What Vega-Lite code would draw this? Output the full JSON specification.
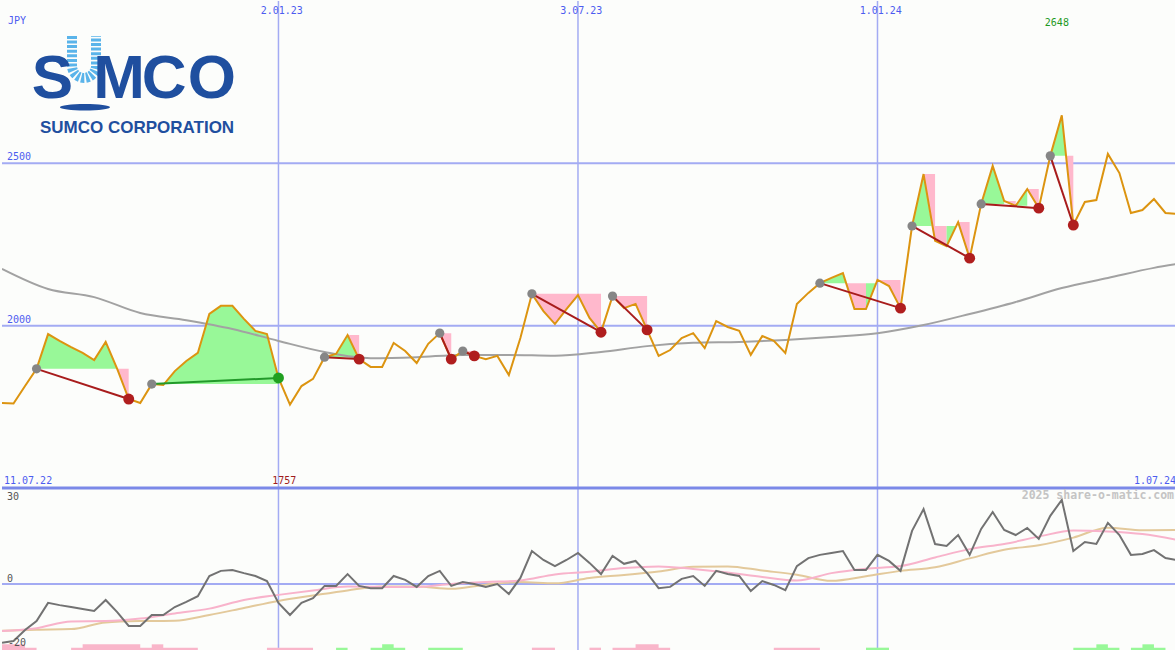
{
"$schema": "https://vega.github.io/schema/vega-lite/v6.json",
"background": "#fcfdfb",
"padding": 0,
"spacing": 0,
"bounds": "flush",
"config": {"view": {"stroke": null}, "axis": {"disable": true}, "legend": {"disable": true}},
"datasets": {
"hgrid": [{"price": 2500}, {"price": 2000}],
"vgrid": [{"date": "2023-01-02"}, {"date": "2023-07-03"}, {"date": "2024-01-01"}],
"lowgrid": [{"v": 0}],
"sep": [{"v": 30}],
"price": [
{"date":"2022-07-18","price":1762,"osc":-18.4},{"date":"2022-07-25","price":1760,"osc":-17.8},{"date":"2022-08-01","price":1814,"osc":-14.4},{"date":"2022-08-08","price":1867,"osc":-11.6},{"date":"2022-08-15","price":1974,"osc":-5.9},{"date":"2022-08-22","price":1953,"osc":-6.6},{"date":"2022-08-29","price":1934,"osc":-7.2},{"date":"2022-09-05","price":1916,"osc":-7.8},{"date":"2022-09-12","price":1894,"osc":-8.4},{"date":"2022-09-19","price":1950,"osc":-5.0},
{"date":"2022-09-26","price":1867,"osc":-8.8},{"date":"2022-10-03","price":1774,"osc":-13.1},{"date":"2022-10-10","price":1762,"osc":-13.1},{"date":"2022-10-17","price":1820,"osc":-9.7},{"date":"2022-10-24","price":1817,"osc":-9.7},{"date":"2022-10-31","price":1860,"osc":-7.2},{"date":"2022-11-07","price":1891,"osc":-5.6},{"date":"2022-11-14","price":1916,"osc":-3.8},{"date":"2022-11-21","price":2036,"osc":2.5},{"date":"2022-11-28","price":2061,"osc":4.1},
{"date":"2022-12-05","price":2061,"osc":4.4},{"date":"2022-12-12","price":2021,"osc":3.4},{"date":"2022-12-19","price":1984,"osc":2.5},{"date":"2022-12-26","price":1974,"osc":0.9},{"date":"2023-01-02","price":1839,"osc":-5.9},{"date":"2023-01-09","price":1757,"osc":-9.7},{"date":"2023-01-16","price":1814,"osc":-5.9},{"date":"2023-01-23","price":1836,"osc":-4.4},{"date":"2023-01-30","price":1903,"osc":-0.6},{"date":"2023-02-06","price":1913,"osc":-0.6},
{"date":"2023-02-13","price":1971,"osc":3.1},{"date":"2023-02-20","price":1897,"osc":-0.6},{"date":"2023-02-27","price":1873,"osc":-1.3},{"date":"2023-03-06","price":1873,"osc":-1.3},{"date":"2023-03-13","price":1947,"osc":2.5},{"date":"2023-03-20","price":1922,"osc":1.3},{"date":"2023-03-27","price":1885,"osc":-0.9},{"date":"2023-04-03","price":1944,"osc":2.5},{"date":"2023-04-10","price":1977,"osc":4.1},{"date":"2023-04-17","price":1897,"osc":-0.6},
{"date":"2023-04-24","price":1922,"osc":0.6},{"date":"2023-05-01","price":1907,"osc":0},{"date":"2023-05-08","price":1897,"osc":-0.9},{"date":"2023-05-15","price":1907,"osc":0},{"date":"2023-05-22","price":1848,"osc":-3.1},{"date":"2023-05-29","price":1962,"osc":1.9},{"date":"2023-06-05","price":2098,"osc":10.3},{"date":"2023-06-12","price":2045,"osc":7.5},{"date":"2023-06-19","price":2005,"osc":5.6},{"date":"2023-06-26","price":2051,"osc":7.5},
{"date":"2023-07-03","price":2094,"osc":9.7},{"date":"2023-07-10","price":2024,"osc":6.6},{"date":"2023-07-17","price":1980,"osc":3.1},{"date":"2023-07-24","price":2091,"osc":8.8},{"date":"2023-07-31","price":2054,"osc":6.3},{"date":"2023-08-07","price":2067,"osc":7.2},{"date":"2023-08-14","price":1987,"osc":3.4},{"date":"2023-08-21","price":1907,"osc":-1.3},{"date":"2023-08-28","price":1925,"osc":-0.9},{"date":"2023-09-04","price":1962,"osc":1.6},
{"date":"2023-09-11","price":1977,"osc":2.5},{"date":"2023-09-18","price":1931,"osc":-0.6},{"date":"2023-09-25","price":2014,"osc":4.1},{"date":"2023-10-02","price":1996,"osc":3.1},{"date":"2023-10-09","price":1984,"osc":2.5},{"date":"2023-10-16","price":1910,"osc":-2.2},{"date":"2023-10-23","price":1968,"osc":0.9},{"date":"2023-10-30","price":1953,"osc":-0.3},{"date":"2023-11-06","price":1916,"osc":-1.9},{"date":"2023-11-13","price":2067,"osc":5.6},
{"date":"2023-11-20","price":2101,"osc":8.1},{"date":"2023-11-27","price":2131,"osc":9.1},{"date":"2023-12-04","price":2147,"osc":9.7},{"date":"2023-12-11","price":2162,"osc":10.3},{"date":"2023-12-18","price":2051,"osc":4.4},{"date":"2023-12-25","price":2051,"osc":4.4},{"date":"2024-01-01","price":2141,"osc":9.1},{"date":"2024-01-08","price":2122,"osc":7.2},{"date":"2024-01-15","price":2054,"osc":4.1},{"date":"2024-01-22","price":2307,"osc":16.6},
{"date":"2024-01-29","price":2467,"osc":23.4},{"date":"2024-02-05","price":2261,"osc":12.5},{"date":"2024-02-12","price":2245,"osc":11.9},{"date":"2024-02-19","price":2319,"osc":15.3},{"date":"2024-02-26","price":2208,"osc":9.1},{"date":"2024-03-04","price":2375,"osc":17.2},{"date":"2024-03-11","price":2492,"osc":22.5},{"date":"2024-03-18","price":2384,"osc":16.9},{"date":"2024-03-25","price":2369,"osc":15.3},{"date":"2024-04-01","price":2421,"osc":17.5},
{"date":"2024-04-08","price":2362,"osc":14.1},{"date":"2024-04-15","price":2523,"osc":21.3},{"date":"2024-04-22","price":2648,"osc":26.3},{"date":"2024-04-29","price":2310,"osc":10.3},{"date":"2024-05-06","price":2381,"osc":13.1},{"date":"2024-05-13","price":2387,"osc":12.5},{"date":"2024-05-20","price":2529,"osc":19.1},{"date":"2024-05-27","price":2470,"osc":15.3},{"date":"2024-06-03","price":2347,"osc":9.1},{"date":"2024-06-10","price":2356,"osc":9.4},
{"date":"2024-06-17","price":2390,"osc":10.6},{"date":"2024-06-24","price":2347,"osc":8.1},{"date":"2024-07-01","price":2344,"osc":7.5}
],
"ma": [
{"date":"2022-07-18","price":2175},{"date":"2022-08-15","price":2113},{"date":"2022-09-12","price":2088},{"date":"2022-10-10","price":2039},{"date":"2022-11-07","price":2017},{"date":"2022-12-05","price":1990},{"date":"2023-01-02","price":1953},{"date":"2023-01-30","price":1919},{"date":"2023-02-27","price":1900},{"date":"2023-03-27","price":1903},{"date":"2023-04-24","price":1910},{"date":"2023-05-22","price":1910},{"date":"2023-06-19","price":1907},{"date":"2023-07-17","price":1919},{"date":"2023-08-14","price":1937},{"date":"2023-09-11","price":1947},{"date":"2023-10-09","price":1950},{"date":"2023-11-06","price":1956},{"date":"2023-12-04","price":1965},{"date":"2024-01-01","price":1977},{"date":"2024-01-29","price":2002},{"date":"2024-02-26","price":2036},{"date":"2024-03-25","price":2073},{"date":"2024-04-22","price":2116},{"date":"2024-05-20","price":2147},{"date":"2024-06-17","price":2178},{"date":"2024-07-01","price":2190}
],
"lowma": [
{"date":"2022-07-18","pink":-14.7,"tan":-14.6},{"date":"2022-08-08","pink":-13.8,"tan":-14.3},{"date":"2022-08-29","pink":-11.7,"tan":-14.1},{"date":"2022-09-19","pink":-11.6,"tan":-12.0},{"date":"2022-10-10","pink":-10.8,"tan":-11.6},{"date":"2022-10-31","pink":-9.2,"tan":-11.5},{"date":"2022-11-21","pink":-7.7,"tan":-9.7},{"date":"2022-12-12","pink":-5.0,"tan":-7.5},{"date":"2023-01-02","pink":-3.4,"tan":-5.3},{"date":"2023-01-23","pink":-2.0,"tan":-3.6},{"date":"2023-02-13","pink":-0.8,"tan":-2.0},{"date":"2023-03-06","pink":-0.9,"tan":-0.8},{"date":"2023-03-27","pink":-0.9,"tan":-0.8},{"date":"2023-04-17","pink":0,"tan":-1.5},{"date":"2023-05-08","pink":0.6,"tan":-0.2},{"date":"2023-05-29","pink":1.1,"tan":0.6},{"date":"2023-06-19","pink":3.0,"tan":0.2},{"date":"2023-07-10","pink":3.8,"tan":1.9},{"date":"2023-07-31","pink":5.0,"tan":2.8},{"date":"2023-08-21","pink":5.5,"tan":3.9},{"date":"2023-09-11","pink":4.7,"tan":5.4},{"date":"2023-10-02","pink":3.6,"tan":5.5},{"date":"2023-10-23","pink":2.2,"tan":4.2},{"date":"2023-11-13","pink":1.1,"tan":2.9},{"date":"2023-12-04","pink":3.4,"tan":1.0},{"date":"2023-12-25","pink":4.8,"tan":2.4},{"date":"2024-01-15","pink":5.6,"tan":4.1},{"date":"2024-02-05","pink":8.3,"tan":5.2},{"date":"2024-02-26","pink":10.9,"tan":8.0},{"date":"2024-03-18","pink":12.5,"tan":10.7},{"date":"2024-04-08","pink":14.8,"tan":12.1},{"date":"2024-04-29","pink":16.7,"tan":14.5},{"date":"2024-05-20","pink":16.4,"tan":17.6},{"date":"2024-06-10","pink":15.6,"tan":16.8},{"date":"2024-07-01","pink":13.8,"tan":16.9}
],
"fills": [
{"date":"2022-08-08","top":1867,"bottom":1867,"grp":"a1","kind":"g"},{"date":"2022-08-15","top":1974,"bottom":1867,"grp":"a1","kind":"g"},{"date":"2022-09-12","top":1894,"bottom":1867,"grp":"a1","kind":"g"},{"date":"2022-09-19","top":1950,"bottom":1867,"grp":"a1","kind":"g"},{"date":"2022-09-26","top":1867,"bottom":1867,"grp":"a1","kind":"g"},
{"date":"2022-09-26","top":1867,"bottom":1867,"grp":"a2","kind":"p"},{"date":"2022-10-03","top":1867,"bottom":1774,"grp":"a2","kind":"p"},
{"date":"2022-10-17","top":1820,"bottom":1820,"grp":"b1","kind":"g"},{"date":"2022-10-24","top":1820,"bottom":1820,"grp":"b1","kind":"g"},{"date":"2022-10-31","top":1860,"bottom":1820,"grp":"b1","kind":"g"},{"date":"2022-11-07","top":1891,"bottom":1820,"grp":"b1","kind":"g"},{"date":"2022-11-14","top":1916,"bottom":1820,"grp":"b1","kind":"g"},{"date":"2022-11-21","top":2036,"bottom":1820,"grp":"b1","kind":"g"},{"date":"2022-11-28","top":2061,"bottom":1820,"grp":"b1","kind":"g"},{"date":"2022-12-05","top":2061,"bottom":1820,"grp":"b1","kind":"g"},{"date":"2022-12-12","top":2021,"bottom":1820,"grp":"b1","kind":"g"},{"date":"2022-12-19","top":1984,"bottom":1820,"grp":"b1","kind":"g"},{"date":"2022-12-26","top":1974,"bottom":1820,"grp":"b1","kind":"g"},{"date":"2023-01-02","top":1839,"bottom":1820,"grp":"b1","kind":"g"},
{"date":"2023-01-30","top":1903,"bottom":1903,"grp":"c1","kind":"g"},{"date":"2023-02-06","top":1913,"bottom":1903,"grp":"c1","kind":"g"},{"date":"2023-02-13","top":1971,"bottom":1903,"grp":"c1","kind":"g"},{"date":"2023-02-19","top":1903,"bottom":1903,"grp":"c1","kind":"g"},
{"date":"2023-02-13","top":1971,"bottom":1971,"grp":"c2","kind":"p"},{"date":"2023-02-19","top":1971,"bottom":1903,"grp":"c2","kind":"p"},{"date":"2023-02-20","top":1971,"bottom":1903,"grp":"c2","kind":"p"},
{"date":"2023-04-10","top":1977,"bottom":1977,"grp":"d1","kind":"p"},{"date":"2023-04-17","top":1977,"bottom":1897,"grp":"d1","kind":"p"},
{"date":"2023-04-24","top":1922,"bottom":1922,"grp":"e1","kind":"p"},{"date":"2023-05-01","top":1922,"bottom":1907,"grp":"e1","kind":"p"},
{"date":"2023-06-05","top":2098,"bottom":2098,"grp":"f1","kind":"p"},{"date":"2023-06-12","top":2098,"bottom":2045,"grp":"f1","kind":"p"},{"date":"2023-06-19","top":2098,"bottom":2005,"grp":"f1","kind":"p"},{"date":"2023-06-26","top":2098,"bottom":2051,"grp":"f1","kind":"p"},{"date":"2023-07-03","top":2098,"bottom":2094,"grp":"f1","kind":"p"},{"date":"2023-07-10","top":2098,"bottom":2024,"grp":"f1","kind":"p"},{"date":"2023-07-17","top":2098,"bottom":1980,"grp":"f1","kind":"p"},
{"date":"2023-07-24","top":2091,"bottom":2091,"grp":"g1","kind":"p"},{"date":"2023-07-31","top":2091,"bottom":2054,"grp":"g1","kind":"p"},{"date":"2023-08-07","top":2091,"bottom":2067,"grp":"g1","kind":"p"},{"date":"2023-08-14","top":2091,"bottom":1987,"grp":"g1","kind":"p"},
{"date":"2023-11-27","top":2131,"bottom":2131,"grp":"h1","kind":"g"},{"date":"2023-12-04","top":2147,"bottom":2131,"grp":"h1","kind":"g"},{"date":"2023-12-11","top":2162,"bottom":2131,"grp":"h1","kind":"g"},{"date":"2023-12-13","top":2131,"bottom":2131,"grp":"h1","kind":"g"},
{"date":"2023-12-13","top":2131,"bottom":2131,"grp":"h2","kind":"p"},{"date":"2023-12-18","top":2131,"bottom":2051,"grp":"h2","kind":"p"},{"date":"2023-12-25","top":2131,"bottom":2051,"grp":"h2","kind":"p"},
{"date":"2023-12-25","top":2131,"bottom":2051,"grp":"h3","kind":"g"},{"date":"2023-12-31","top":2131,"bottom":2131,"grp":"h3","kind":"g"},
{"date":"2024-01-01","top":2141,"bottom":2141,"grp":"h4","kind":"p"},{"date":"2024-01-08","top":2141,"bottom":2122,"grp":"h4","kind":"p"},{"date":"2024-01-15","top":2141,"bottom":2054,"grp":"h4","kind":"p"},
{"date":"2024-01-22","top":2307,"bottom":2307,"grp":"i1","kind":"g"},{"date":"2024-01-29","top":2467,"bottom":2307,"grp":"i1","kind":"g"},{"date":"2024-02-03","top":2307,"bottom":2307,"grp":"i1","kind":"g"},
{"date":"2024-01-29","top":2467,"bottom":2467,"grp":"i2","kind":"p"},{"date":"2024-02-03","top":2467,"bottom":2307,"grp":"i2","kind":"p"},{"date":"2024-02-05","top":2467,"bottom":2307,"grp":"i2","kind":"p"},
{"date":"2024-02-03","top":2307,"bottom":2307,"grp":"i3","kind":"p"},{"date":"2024-02-05","top":2307,"bottom":2261,"grp":"i3","kind":"p"},{"date":"2024-02-12","top":2307,"bottom":2245,"grp":"i3","kind":"p"},
{"date":"2024-02-12","top":2307,"bottom":2245,"grp":"i4","kind":"g"},{"date":"2024-02-18","top":2307,"bottom":2307,"grp":"i4","kind":"g"},
{"date":"2024-02-19","top":2319,"bottom":2319,"grp":"i5","kind":"p"},{"date":"2024-02-26","top":2319,"bottom":2208,"grp":"i5","kind":"p"},
{"date":"2024-03-04","top":2375,"bottom":2375,"grp":"j1","kind":"g"},{"date":"2024-03-11","top":2492,"bottom":2375,"grp":"j1","kind":"g"},{"date":"2024-03-18","top":2384,"bottom":2375,"grp":"j1","kind":"g"},
{"date":"2024-03-18","top":2384,"bottom":2384,"grp":"j2","kind":"p"},{"date":"2024-03-25","top":2384,"bottom":2369,"grp":"j2","kind":"p"},
{"date":"2024-03-25","top":2369,"bottom":2369,"grp":"j3","kind":"g"},{"date":"2024-04-01","top":2421,"bottom":2369,"grp":"j3","kind":"g"},
{"date":"2024-04-01","top":2421,"bottom":2421,"grp":"j4","kind":"p"},{"date":"2024-04-08","top":2421,"bottom":2362,"grp":"j4","kind":"p"},
{"date":"2024-04-15","top":2523,"bottom":2523,"grp":"k1","kind":"g"},{"date":"2024-04-22","top":2648,"bottom":2523,"grp":"k1","kind":"g"},{"date":"2024-04-24T14:00:00Z","top":2523,"bottom":2523,"grp":"k1","kind":"g"},
{"date":"2024-04-24T14:00:00Z","top":2523,"bottom":2523,"grp":"k2","kind":"p"},{"date":"2024-04-29","top":2523,"bottom":2310,"grp":"k2","kind":"p"}
],
"signals": [
{"date":"2022-08-08","price":1867,"end":"2022-10-03","eprice":1774,"kind":"down"},
{"date":"2022-10-17","price":1820,"end":"2023-01-02","eprice":1839,"kind":"up"},
{"date":"2023-01-30","price":1903,"end":"2023-02-20","eprice":1897,"kind":"down"},
{"date":"2023-04-10","price":1977,"end":"2023-04-17","eprice":1897,"kind":"down"},
{"date":"2023-04-24","price":1922,"end":"2023-05-01","eprice":1907,"kind":"down"},
{"date":"2023-06-05","price":2098,"end":"2023-07-17","eprice":1980,"kind":"down"},
{"date":"2023-07-24","price":2091,"end":"2023-08-14","eprice":1987,"kind":"down"},
{"date":"2023-11-27","price":2131,"end":"2024-01-15","eprice":2054,"kind":"down"},
{"date":"2024-01-22","price":2307,"end":"2024-02-26","eprice":2208,"kind":"down"},
{"date":"2024-03-04","price":2375,"end":"2024-04-08","eprice":2362,"kind":"down"},
{"date":"2024-04-15","price":2523,"end":"2024-04-29","eprice":2310,"kind":"down"}
],
"bars": [
{"date":"2022-07-11","end":"2022-08-08","top":-19.9,"kind":"p"},
{"date":"2022-07-11","end":"2022-08-01","top":-18.85,"kind":"p"},
{"date":"2022-08-29","end":"2022-11-14","top":-19.9,"kind":"p"},
{"date":"2022-09-05","end":"2022-10-10","top":-18.85,"kind":"p"},
{"date":"2022-10-17","end":"2022-10-24","top":-18.85,"kind":"p"},
{"date":"2022-12-26","end":"2023-01-23","top":-19.9,"kind":"p"},
{"date":"2023-02-06","end":"2023-02-13","top":-19.9,"kind":"g"},
{"date":"2023-02-27","end":"2023-03-20","top":-19.9,"kind":"g"},
{"date":"2023-03-06","end":"2023-03-13","top":-18.85,"kind":"g"},
{"date":"2023-04-03","end":"2023-04-24","top":-19.9,"kind":"g"},
{"date":"2023-06-05","end":"2023-06-19","top":-19.9,"kind":"p"},
{"date":"2023-07-10","end":"2023-07-17","top":-19.9,"kind":"p"},
{"date":"2023-07-24","end":"2023-08-28","top":-19.9,"kind":"p"},
{"date":"2023-08-07","end":"2023-08-21","top":-18.85,"kind":"p"},
{"date":"2023-10-30","end":"2023-11-27","top":-19.9,"kind":"p"},
{"date":"2023-12-25","end":"2024-01-08","top":-19.9,"kind":"g"},
{"date":"2024-04-29","end":"2024-05-27","top":-19.9,"kind":"g"},
{"date":"2024-05-13","end":"2024-05-20","top":-18.85,"kind":"g"},
{"date":"2024-06-03","end":"2024-06-24","top":-19.9,"kind":"g"},
{"date":"2024-06-10","end":"2024-06-17","top":-18.85,"kind":"g"}
],
"labels": [
{"date":"2022-07-21T15:00:00Z","price":2938,"label":"JPY","role":"left"},
{"date":"2022-07-21","price":2519,"label":"2500","role":"left"},
{"date":"2022-07-21","price":2017,"label":"2000","role":"left"},
{"date":"2022-07-19T05:00:00Z","price":1522,"label":"11.07.22","role":"left"},
{"date":"2023-01-04","price":2969,"label":"2.01.23","role":"center"},
{"date":"2023-07-05","price":2969,"label":"3.07.23","role":"center"},
{"date":"2024-01-03","price":2969,"label":"1.01.24","role":"center"},
{"date":"2024-06-30T10:00:00Z","price":1522,"label":"1.07.24","role":"right"},
{"date":"2023-01-05T12:00:00Z","price":1522,"label":"1757","role":"min"},
{"date":"2024-04-19","price":2932,"label":"2648","role":"max"}
],
"lowlabels": [
{"date":"2022-07-21","v":27.2,"label":"30"},
{"date":"2022-07-21","v":1.6,"label":"0"},
{"date":"2022-07-21T15:00:00Z","v":-18.4,"label":"-20"}
],
"wm": [{"date":"2024-06-29T05:00:00Z","v":27.4,"label":"2025 share-o-matic.com"}],
"logo": [
{"date":"2022-08-17T17:00:00Z","price":2701,"label":"S","part":"big"},
{"date":"2022-09-27T02:00:00Z","price":2701,"label":"M","part":"big"},
{"date":"2022-10-24T11:00:00Z","price":2701,"label":"C","part":"big"},
{"date":"2022-11-22T14:00:00Z","price":2701,"label":"O","part":"big"},
{"date":"2022-10-08T01:00:00Z","price":2593,"label":"SUMCO CORPORATION","part":"corp"}
],
"logou": [{"date":"2022-09-05T20:00:00Z","price":2820}],
"logoshape": [{"date":"2022-09-06T10:00:00Z","price":2673}]
},
"vconcat": [
{
"width": 1175, "height": 487,
"resolve": {"scale": {"color": "independent"}},
"layer": [
{"data":{"name":"hgrid"},"mark":{"type":"rule","color":"#a3abf3","strokeWidth":2},
 "encoding":{"y":{"field":"price","type":"quantitative","scale":{"domain":[1500,3000],"nice":false,"zero":false}}}},
{"data":{"name":"vgrid"},"mark":{"type":"rule","color":"#a3abf3","strokeWidth":1.5},
 "encoding":{"x":{"field":"date","type":"temporal","scale":{"type":"utc","domain":[{"year":2022,"month":7,"date":18,"utc":true},{"year":2024,"month":7,"date":1,"utc":true}]}}}},
{"data":{"name":"fills"},"mark":{"type":"area","opacity":1,"clip":true},
 "encoding":{"x":{"field":"date","type":"temporal","scale":{"type":"utc","domain":[{"year":2022,"month":7,"date":18,"utc":true},{"year":2024,"month":7,"date":1,"utc":true}]}},
  "y":{"field":"top","type":"quantitative","scale":{"domain":[1500,3000],"nice":false,"zero":false}},
  "y2":{"field":"bottom"},
  "color":{"field":"kind","type":"nominal","scale":{"domain":["g","p"],"range":["#98f898","#ffb8cc"]}},
  "detail":{"field":"grp"}}},
{"data":{"name":"ma"},"mark":{"type":"line","color":"#a2a2a2","strokeWidth":2,"interpolate":"monotone","clip":true},
 "encoding":{"x":{"field":"date","type":"temporal","scale":{"type":"utc","domain":[{"year":2022,"month":7,"date":18,"utc":true},{"year":2024,"month":7,"date":1,"utc":true}]}},
  "y":{"field":"price","type":"quantitative","scale":{"domain":[1500,3000],"nice":false,"zero":false}}}},
{"data":{"name":"price"},"mark":{"type":"line","color":"#dc9410","strokeWidth":2,"clip":true},
 "encoding":{"x":{"field":"date","type":"temporal","scale":{"type":"utc","domain":[{"year":2022,"month":7,"date":18,"utc":true},{"year":2024,"month":7,"date":1,"utc":true}]}},
  "y":{"field":"price","type":"quantitative","scale":{"domain":[1500,3000],"nice":false,"zero":false}}}},
{"data":{"name":"signals"},"mark":{"type":"rule","strokeWidth":2},
 "encoding":{"x":{"field":"date","type":"temporal","scale":{"type":"utc","domain":[{"year":2022,"month":7,"date":18,"utc":true},{"year":2024,"month":7,"date":1,"utc":true}]}},
  "y":{"field":"price","type":"quantitative","scale":{"domain":[1500,3000],"nice":false,"zero":false}},
  "x2":{"field":"end"},"y2":{"field":"eprice"},
  "color":{"field":"kind","type":"nominal","scale":{"domain":["down","up"],"range":["#a81c1c","#22992a"]}}}},
{"data":{"name":"signals"},"mark":{"type":"point","filled":true,"opacity":1,"size":85,"color":"#868686"},
 "encoding":{"x":{"field":"date","type":"temporal","scale":{"type":"utc","domain":[{"year":2022,"month":7,"date":18,"utc":true},{"year":2024,"month":7,"date":1,"utc":true}]}},
  "y":{"field":"price","type":"quantitative","scale":{"domain":[1500,3000],"nice":false,"zero":false}}}},
{"data":{"name":"signals"},"mark":{"type":"point","filled":true,"opacity":1,"size":120},
 "encoding":{"x":{"field":"end","type":"temporal","scale":{"type":"utc","domain":[{"year":2022,"month":7,"date":18,"utc":true},{"year":2024,"month":7,"date":1,"utc":true}]}},
  "y":{"field":"eprice","type":"quantitative","scale":{"domain":[1500,3000],"nice":false,"zero":false}},
  "color":{"field":"kind","type":"nominal","scale":{"domain":["down","up"],"range":["#b01e1e","#20a020"]}}}},
{"data":{"name":"labels"},"transform":[{"filter":"datum.role === 'left'"}],
 "mark":{"type":"text","align":"left","baseline":"middle","font":"DejaVu Sans Mono","fontSize":10,"color":"#4c5cf0"},
 "encoding":{"x":{"field":"date","type":"temporal","scale":{"type":"utc","domain":[{"year":2022,"month":7,"date":18,"utc":true},{"year":2024,"month":7,"date":1,"utc":true}]}},
  "y":{"field":"price","type":"quantitative","scale":{"domain":[1500,3000],"nice":false,"zero":false}},"text":{"field":"label"}}},
{"data":{"name":"labels"},"transform":[{"filter":"datum.role === 'center'"}],
 "mark":{"type":"text","align":"center","baseline":"middle","font":"DejaVu Sans Mono","fontSize":10,"color":"#4c5cf0"},
 "encoding":{"x":{"field":"date","type":"temporal","scale":{"type":"utc","domain":[{"year":2022,"month":7,"date":18,"utc":true},{"year":2024,"month":7,"date":1,"utc":true}]}},
  "y":{"field":"price","type":"quantitative","scale":{"domain":[1500,3000],"nice":false,"zero":false}},"text":{"field":"label"}}},
{"data":{"name":"labels"},"transform":[{"filter":"datum.role === 'right'"}],
 "mark":{"type":"text","align":"right","baseline":"middle","font":"DejaVu Sans Mono","fontSize":10,"color":"#4c5cf0"},
 "encoding":{"x":{"field":"date","type":"temporal","scale":{"type":"utc","domain":[{"year":2022,"month":7,"date":18,"utc":true},{"year":2024,"month":7,"date":1,"utc":true}]}},
  "y":{"field":"price","type":"quantitative","scale":{"domain":[1500,3000],"nice":false,"zero":false}},"text":{"field":"label"}}},
{"data":{"name":"labels"},"transform":[{"filter":"datum.role === 'min'"}],
 "mark":{"type":"text","align":"center","baseline":"middle","font":"DejaVu Sans Mono","fontSize":10,"color":"#a01c1c"},
 "encoding":{"x":{"field":"date","type":"temporal","scale":{"type":"utc","domain":[{"year":2022,"month":7,"date":18,"utc":true},{"year":2024,"month":7,"date":1,"utc":true}]}},
  "y":{"field":"price","type":"quantitative","scale":{"domain":[1500,3000],"nice":false,"zero":false}},"text":{"field":"label"}}},
{"data":{"name":"labels"},"transform":[{"filter":"datum.role === 'max'"}],
 "mark":{"type":"text","align":"center","baseline":"middle","font":"DejaVu Sans Mono","fontSize":10,"color":"#1f9a1f"},
 "encoding":{"x":{"field":"date","type":"temporal","scale":{"type":"utc","domain":[{"year":2022,"month":7,"date":18,"utc":true},{"year":2024,"month":7,"date":1,"utc":true}]}},
  "y":{"field":"price","type":"quantitative","scale":{"domain":[1500,3000],"nice":false,"zero":false}},"text":{"field":"label"}}},
{"data":{"name":"logou"},
 "mark":{"type":"point","filled":false,"opacity":1,"size":2304,"shape":"M-0.5,-0.98L-0.5,0.27A0.5,0.5,0,0,0,0.5,0.27L0.5,-0.98","color":"#5ab4ea","strokeWidth":10,"strokeDash":[3,1.6],"strokeCap":"butt"},
 "encoding":{"x":{"field":"date","type":"temporal","scale":{"type":"utc","domain":[{"year":2022,"month":7,"date":18,"utc":true},{"year":2024,"month":7,"date":1,"utc":true}]}},
  "y":{"field":"price","type":"quantitative","scale":{"domain":[1500,3000],"nice":false,"zero":false}}}},
{"data":{"name":"logo"},"transform":[{"filter":"datum.part === 'big'"}],
 "mark":{"type":"text","align":"center","baseline":"alphabetic","font":"Liberation Sans","fontWeight":"bold","fontSize":62,"color":"#1f4f9f"},
 "encoding":{"x":{"field":"date","type":"temporal","scale":{"type":"utc","domain":[{"year":2022,"month":7,"date":18,"utc":true},{"year":2024,"month":7,"date":1,"utc":true}]}},
  "y":{"field":"price","type":"quantitative","scale":{"domain":[1500,3000],"nice":false,"zero":false}},"text":{"field":"label"}}},
{"data":{"name":"logo"},"transform":[{"filter":"datum.part === 'corp'"}],
 "mark":{"type":"text","align":"center","baseline":"alphabetic","font":"Liberation Sans","fontWeight":"bold","fontSize":17,"color":"#1f4f9f"},
 "encoding":{"x":{"field":"date","type":"temporal","scale":{"type":"utc","domain":[{"year":2022,"month":7,"date":18,"utc":true},{"year":2024,"month":7,"date":1,"utc":true}]}},
  "y":{"field":"price","type":"quantitative","scale":{"domain":[1500,3000],"nice":false,"zero":false}},"text":{"field":"label"}}},
{"data":{"name":"logoshape"},
 "mark":{"type":"point","filled":true,"opacity":1,"size":2500,"shape":"M-1,0A1,0.13,0,1,1,1,0A1,0.13,0,1,1,-1,0Z","color":"#1f4f9f"},
 "encoding":{"x":{"field":"date","type":"temporal","scale":{"type":"utc","domain":[{"year":2022,"month":7,"date":18,"utc":true},{"year":2024,"month":7,"date":1,"utc":true}]}},
  "y":{"field":"price","type":"quantitative","scale":{"domain":[1500,3000],"nice":false,"zero":false}}}}
]
},
{
"width": 1175, "height": 163,
"resolve": {"scale": {"color": "independent"}},
"layer": [
{"data":{"name":"lowgrid"},"mark":{"type":"rule","color":"#a3abf3","strokeWidth":2},
 "encoding":{"y":{"field":"v","type":"quantitative","scale":{"domain":[-20.94,30],"nice":false,"zero":false}}}},
{"data":{"name":"vgrid"},"mark":{"type":"rule","color":"#a3abf3","strokeWidth":1.5},
 "encoding":{"x":{"field":"date","type":"temporal","scale":{"type":"utc","domain":[{"year":2022,"month":7,"date":18,"utc":true},{"year":2024,"month":7,"date":1,"utc":true}]}}}},
{"data":{"name":"bars"},"mark":{"type":"rect","clip":true},
 "encoding":{"x":{"field":"date","type":"temporal","scale":{"type":"utc","domain":[{"year":2022,"month":7,"date":18,"utc":true},{"year":2024,"month":7,"date":1,"utc":true}]}},
  "x2":{"field":"end"},
  "y":{"field":"top","type":"quantitative","scale":{"domain":[-20.94,30],"nice":false,"zero":false}},
  "y2":{"datum":-20.94},
  "color":{"field":"kind","type":"nominal","scale":{"domain":["g","p"],"range":["#98f898","#f9b6ca"]}}}},
{"data":{"name":"lowma"},"mark":{"type":"line","color":"#e3c99b","strokeWidth":2,"interpolate":"monotone","clip":true},
 "encoding":{"x":{"field":"date","type":"temporal","scale":{"type":"utc","domain":[{"year":2022,"month":7,"date":18,"utc":true},{"year":2024,"month":7,"date":1,"utc":true}]}},
  "y":{"field":"tan","type":"quantitative","scale":{"domain":[-20.94,30],"nice":false,"zero":false}}}},
{"data":{"name":"lowma"},"mark":{"type":"line","color":"#f8b3cb","strokeWidth":2,"interpolate":"monotone","clip":true},
 "encoding":{"x":{"field":"date","type":"temporal","scale":{"type":"utc","domain":[{"year":2022,"month":7,"date":18,"utc":true},{"year":2024,"month":7,"date":1,"utc":true}]}},
  "y":{"field":"pink","type":"quantitative","scale":{"domain":[-20.94,30],"nice":false,"zero":false}}}},
{"data":{"name":"price"},"mark":{"type":"line","color":"#727272","strokeWidth":2,"clip":true},
 "encoding":{"x":{"field":"date","type":"temporal","scale":{"type":"utc","domain":[{"year":2022,"month":7,"date":18,"utc":true},{"year":2024,"month":7,"date":1,"utc":true}]}},
  "y":{"field":"osc","type":"quantitative","scale":{"domain":[-20.94,30],"nice":false,"zero":false}}}},
{"data":{"name":"sep"},"mark":{"type":"rule","color":"#7b89e8","strokeWidth":3},
 "encoding":{"y":{"field":"v","type":"quantitative","scale":{"domain":[-20.94,30],"nice":false,"zero":false}}}},
{"data":{"name":"lowlabels"},
 "mark":{"type":"text","align":"left","baseline":"middle","font":"DejaVu Sans Mono","fontSize":10,"color":"#555555"},
 "encoding":{"x":{"field":"date","type":"temporal","scale":{"type":"utc","domain":[{"year":2022,"month":7,"date":18,"utc":true},{"year":2024,"month":7,"date":1,"utc":true}]}},
  "y":{"field":"v","type":"quantitative","scale":{"domain":[-20.94,30],"nice":false,"zero":false}},"text":{"field":"label"}}},
{"data":{"name":"wm"},
 "mark":{"type":"text","align":"right","baseline":"middle","font":"DejaVu Sans Mono","fontWeight":"bold","fontSize":11.5,"color":"#c4c4c4"},
 "encoding":{"x":{"field":"date","type":"temporal","scale":{"type":"utc","domain":[{"year":2022,"month":7,"date":18,"utc":true},{"year":2024,"month":7,"date":1,"utc":true}]}},
  "y":{"field":"v","type":"quantitative","scale":{"domain":[-20.94,30],"nice":false,"zero":false}},"text":{"field":"label"}}}
]
}
]
}
